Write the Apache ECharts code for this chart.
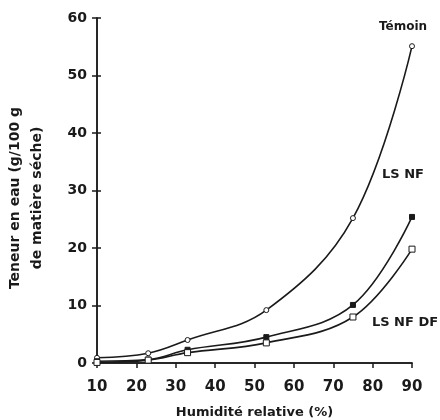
<!DOCTYPE html>
<html><head><meta charset="utf-8">
<script src="https://cdn.jsdelivr.net/npm/echarts@6/dist/echarts.min.js"></script>
<style>html,body{margin:0;padding:0;background:#fff}#c{width:440px;height:420px}</style>
</head><body><div id="c"></div>
<script>
const humidity = [10, 23, 33, 53, 75, 90];
const temoin = [0.9, 1.7, 4.0, 9.2, 25.2, 55.1];
const lsnf = [0.3, 0.6, 2.3, 4.5, 10.1, 25.4];
const lsnfdf = [0.1, 0.5, 1.8, 3.5, 8.0, 19.8];
const xTicks = [10, 20, 30, 40, 50, 60, 70, 80, 90];
const yTicks = [0, 10, 20, 30, 40, 50, 60];
const seriesNames = ['Témoin', 'LS NF', 'LS NF DF'];

const ink = '#1a1a1a';
const font = '"DejaVu Sans", Verdana, sans-serif';
const pairs = v => humidity.map((h, i) => [h, v[i]]);
const chart = echarts.init(document.getElementById('c'));
const baseX = {
  type: 'value', min: xTicks[0], max: xTicks[xTicks.length - 1], interval: 10,
  axisLine: {lineStyle: {color: ink, width: 1.5}},
  splitLine: {show: false}
};
const baseY = {
  type: 'value', min: yTicks[0], max: yTicks[yTicks.length - 1], interval: 10,
  axisLine: {show: true, lineStyle: {color: ink, width: 1.5}},
  splitLine: {show: false}
};
const lineCommon = {type: 'line', smooth: 0.38, lineStyle: {color: ink, width: 1.6}, z: 3};
chart.setOption({
  backgroundColor: '#fff',
  animation: false,
  grid: {left: 97, right: 28, top: 18, bottom: 57, containLabel: false, outerBoundsMode: 'none'},
  xAxis: [
    Object.assign({}, baseX, {
      axisTick: {show: true, length: 5, lineStyle: {color: ink, width: 1.5}},
      axisLabel: {color: ink, fontSize: 15, fontWeight: 'bold', fontFamily: font, margin: 17},
      name: 'Humidité relative (%)', nameLocation: 'middle', nameGap: 43,
      nameTextStyle: {color: ink, fontSize: 13, fontWeight: 'bold', fontFamily: font}
    }),
    Object.assign({}, baseX, {
      axisTick: {show: true, inside: true, length: 5, lineStyle: {color: ink, width: 1.5}},
      axisLabel: {show: false}
    })
  ],
  yAxis: [
    Object.assign({}, baseY, {
      axisTick: {show: true, length: 5, lineStyle: {color: ink, width: 1.5}},
      axisLabel: {color: ink, fontSize: 14, fontWeight: 'bold', fontFamily: font, margin: 10}
    }),
    Object.assign({}, baseY, {
      position: 'left',
      axisTick: {show: true, inside: true, length: 4, lineStyle: {color: ink, width: 1.5}},
      axisLabel: {show: false}
    })
  ],
  graphic: [
    {type: 'text', x: 15, y: 198, rotation: Math.PI / 2,
     style: {text: 'Teneur en eau (g/100 g', fill: ink, font: 'bold 14px ' + font, align: 'center', verticalAlign: 'middle'}},
    {type: 'text', x: 37, y: 198, rotation: Math.PI / 2,
     style: {text: 'de matière séche)', fill: ink, font: 'bold 14px ' + font, align: 'center', verticalAlign: 'middle'}},
    {type: 'text', x: 403, y: 27, style: {text: seriesNames[0], fill: ink, font: 'bold 12px ' + font, align: 'center', verticalAlign: 'middle'}},
    {type: 'text', x: 403, y: 175, style: {text: seriesNames[1], fill: ink, font: 'bold 13px ' + font, align: 'center', verticalAlign: 'middle'}},
    {type: 'text', x: 405, y: 323, style: {text: seriesNames[2], fill: ink, font: 'bold 13px ' + font, align: 'center', verticalAlign: 'middle'}}
  ],
  series: [
    Object.assign({}, lineCommon, {name: seriesNames[0], data: pairs(temoin),
     symbol: 'circle', symbolSize: 5,
     itemStyle: {color: '#fff', borderColor: ink, borderWidth: 1}}),
    Object.assign({}, lineCommon, {name: seriesNames[1], data: pairs(lsnf),
     symbol: 'rect', symbolSize: 5,
     itemStyle: {color: ink, borderColor: ink, borderWidth: 1}}),
    Object.assign({}, lineCommon, {name: seriesNames[2], data: pairs(lsnfdf),
     symbol: 'rect', symbolSize: 6,
     itemStyle: {color: '#fff', borderColor: ink, borderWidth: 1}})
  ]
});
</script></body></html>
